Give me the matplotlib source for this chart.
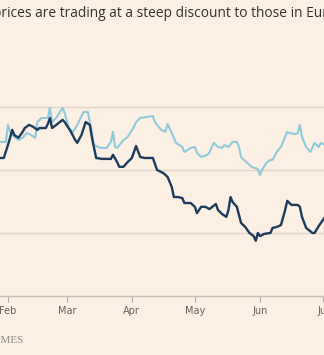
import matplotlib
matplotlib.use("Agg")
import matplotlib.pyplot as plt
import pandas as pd

# dark series
dark_dates = ["2023-01-28", "2023-01-30", "2023-02-01", "2023-02-02", "2023-02-03", "2023-02-04",
              "2023-02-06", "2023-02-08", "2023-02-09", "2023-02-11", "2023-02-13", "2023-02-15",
              "2023-02-16", "2023-02-19", "2023-02-20", "2023-02-21", "2023-02-22", "2023-02-24",
              "2023-02-27", "2023-02-28", "2023-03-03", "2023-03-05", "2023-03-06", "2023-03-08",
              "2023-03-10", "2023-03-12", "2023-03-13", "2023-03-15", "2023-03-18", "2023-03-22",
              "2023-03-23", "2023-03-25", "2023-03-26", "2023-03-28", "2023-03-30", "2023-04-01",
              "2023-04-03", "2023-04-05", "2023-04-07", "2023-04-11", "2023-04-13", "2023-04-16",
              "2023-04-18", "2023-04-20", "2023-04-21", "2023-04-23", "2023-04-25", "2023-04-26",
              "2023-04-29", "2023-05-01", "2023-05-02", "2023-05-04", "2023-05-06", "2023-05-08",
              "2023-05-11", "2023-05-12", "2023-05-14", "2023-05-16", "2023-05-17", "2023-05-18",
              "2023-05-19", "2023-05-21", "2023-05-23", "2023-05-25", "2023-05-27", "2023-05-29",
              "2023-05-30", "2023-05-31", "2023-06-01", "2023-06-03", "2023-06-06", "2023-06-07",
              "2023-06-09", "2023-06-11", "2023-06-13", "2023-06-14", "2023-06-16", "2023-06-19",
              "2023-06-20", "2023-06-21", "2023-06-23", "2023-06-26", "2023-06-27", "2023-06-29",
              "2023-06-30", "2023-07-02"]
dark_values = [43.8, 43.8, 47.9, 50.2, 52.7, 51.1, 50.2, 52.1, 53.3, 54.3, 53.7, 52.7,
               53.3, 53.3, 54.6, 56.5, 53.3, 54.3, 55.9, 55.2, 52.1, 49.5, 48.6, 51.1,
               55.2, 54.3, 50.2, 43.8, 43.5, 43.5, 44.8, 42.5, 41.0, 41.0, 42.5, 43.8,
               47.6, 44.1, 43.8, 43.8, 40.0, 39.0, 37.8, 34.6, 31.4, 31.4, 31.1, 29.5,
               29.5, 28.3, 26.3, 28.3, 28.3, 27.6, 29.2, 27.3, 26.0, 25.1, 27.3, 31.4,
               29.8, 28.3, 23.2, 21.9, 20.0, 19.0, 17.5, 20.0, 19.0, 19.7, 20.0, 21.6,
               21.9, 22.5, 27.3, 30.2, 28.9, 28.9, 28.3, 25.1, 21.6, 20.0, 20.0, 22.2,
               23.2, 25.1]

# light series
light_dates = ["2023-01-28", "2023-01-31", "2023-02-01", "2023-02-02", "2023-02-03", "2023-02-06",
               "2023-02-08", "2023-02-10", "2023-02-12", "2023-02-14", "2023-02-15", "2023-02-17",
               "2023-02-20", "2023-02-21", "2023-02-22", "2023-02-24", "2023-02-27", "2023-02-28",
               "2023-03-02", "2023-03-04", "2023-03-06", "2023-03-09", "2023-03-11", "2023-03-12",
               "2023-03-14", "2023-03-17", "2023-03-20", "2023-03-22", "2023-03-23", "2023-03-24",
               "2023-03-25", "2023-03-28", "2023-03-30", "2023-04-02", "2023-04-03", "2023-04-05",
               "2023-04-08", "2023-04-11", "2023-04-12", "2023-04-13", "2023-04-15", "2023-04-17",
               "2023-04-18", "2023-04-20", "2023-04-22", "2023-04-25", "2023-04-26", "2023-04-29",
               "2023-05-01", "2023-05-02", "2023-05-04", "2023-05-07", "2023-05-08", "2023-05-10",
               "2023-05-12", "2023-05-14", "2023-05-15", "2023-05-17", "2023-05-19", "2023-05-21",
               "2023-05-22", "2023-05-23", "2023-05-26", "2023-05-28", "2023-05-31", "2023-06-01",
               "2023-06-02", "2023-06-04", "2023-06-06", "2023-06-07", "2023-06-09", "2023-06-11",
               "2023-06-14", "2023-06-15", "2023-06-18", "2023-06-19", "2023-06-20", "2023-06-21",
               "2023-06-23", "2023-06-25", "2023-06-27", "2023-06-29", "2023-06-30", "2023-07-02"]
light_values = [48.9, 48.9, 54.3, 52.1, 51.1, 49.5, 50.2, 51.7, 51.1, 50.2, 55.2, 56.5,
                56.5, 59.7, 55.2, 56.5, 59.7, 58.1, 53.3, 52.1, 54.3, 58.4, 58.4, 55.2,
                47.9, 47.0, 47.0, 48.9, 52.1, 47.3, 47.0, 49.5, 50.5, 53.7, 55.2, 56.5,
                56.8, 57.1, 55.2, 54.3, 52.7, 52.1, 54.6, 51.7, 48.6, 47.3, 45.7, 47.0,
                47.3, 45.4, 44.1, 44.8, 45.7, 48.6, 47.3, 47.0, 47.9, 47.3, 48.9, 48.9,
                47.3, 44.1, 42.2, 41.0, 40.3, 38.4, 40.0, 42.2, 43.2, 43.2, 45.7, 47.3,
                52.1, 51.7, 51.4, 51.7, 54.3, 50.5, 47.3, 45.7, 48.6, 47.3, 48.6, 47.9]

grid_values = [20, 40, 60]
month_ticks = ["2023-02-01", "2023-03-01", "2023-04-01", "2023-05-01", "2023-06-01", "2023-07-01"]
month_labels = ["Feb", "Mar", "Apr", "May", "Jun", "Jul"]

title = "prices are trading at a steep discount to those in Europe"

bg = "#FCF0E5"
fig = plt.figure(figsize=(3.24, 3.55), dpi=100, facecolor=bg)
ax = fig.add_axes([0, 0.1662, 1, 0.7155], facecolor=bg)

ax.plot(pd.to_datetime(light_dates), light_values, color="#8FCADB", lw=1.5, solid_joinstyle="round")
ax.plot(pd.to_datetime(dark_dates), dark_values, color="#1D3B5A", lw=1.7, solid_joinstyle="round")

ax.set_xlim(pd.Timestamp("2023-01-28 05:00"), pd.Timestamp("2023-07-01 12:00"))
ax.set_ylim(0, 80.6)

# gridlines
for g in grid_values:
    ax.axhline(g, color="#E2D5CA", lw=1, zorder=0)

ax.set_yticks([])
ax.set_xticks(pd.to_datetime(month_ticks))
ax.set_xticklabels(month_labels)
ax.tick_params(axis="x", direction="out", length=4, width=0.8, color="#B5ABA2",
               labelcolor="#66605C", labelsize=7, pad=3)
for s in ["top", "left", "right"]:
    ax.spines[s].set_visible(False)
ax.spines["bottom"].set_color("#C9BEB4")
ax.spines["bottom"].set_linewidth(1)

fig.text(-0.022, 0.963, title, fontsize=9.9, color="#33302E", ha="left", va="center",
         family=["Open Sans", "DejaVu Sans"])
fig.text(0.072, 0.04, "FINANCIAL TIMES", fontsize=8, color="#8F8A85", ha="right", va="center",
         family=["Liberation Serif", "DejaVu Serif"])

fig.savefig("out.png", dpi=100, facecolor=bg)
